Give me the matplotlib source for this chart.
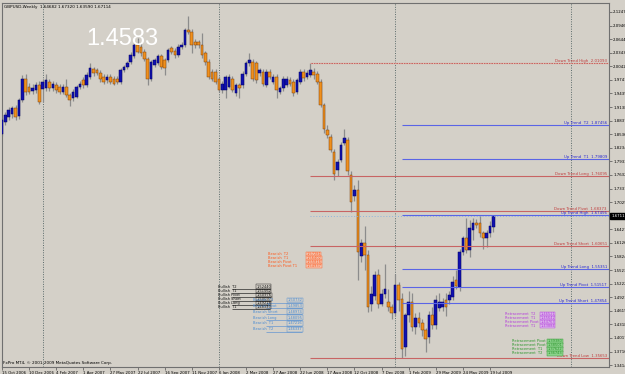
import matplotlib
matplotlib.use('Agg')
import matplotlib.pyplot as plt
import matplotlib.transforms as mtransforms

# GBPUSD weekly bars, 15 Oct 2006 .. 26 Jul 2009
opens = [1.855, 1.881, 1.892, 1.898, 1.911, 1.893, 1.929, 1.977, 1.959, 1.950,
         1.951, 1.963, 1.953, 1.955, 1.970, 1.955, 1.963, 1.959, 1.948, 1.959,
         1.940, 1.933, 1.937, 1.959, 1.974, 1.963, 1.981, 1.998, 1.996, 1.989,
         1.981, 1.974, 1.981, 1.977, 1.977, 1.970, 1.996, 2.003, 2.014, 2.026,
         2.052, 2.048, 2.037, 2.020, 1.977, 2.007, 2.011, 2.026, 2.018, 2.018,
         2.044, 2.039, 2.029, 2.048, 2.052, 2.085, 2.081, 2.059, 2.057, 2.052,
         2.033, 2.014, 1.992, 1.992, 1.977, 1.951, 1.951, 1.959, 1.977, 1.944,
         1.963, 1.963, 1.988, 2.011, 2.014, 2.011, 1.989, 1.992, 1.963, 1.992,
         1.970, 1.981, 1.948, 1.955, 1.963, 1.974, 1.970, 1.948, 1.970, 1.992,
         1.981, 1.985, 1.992, 1.987, 1.970, 1.918, 1.863, 1.848, 1.814, 1.775,
         1.797, 1.834, 1.841, 1.764, 1.717, 1.730, 1.583, 1.612, 1.586, 1.478,
         1.495, 1.541, 1.478, 1.500, 1.482, 1.471, 1.456, 1.519, 1.489, 1.382,
         1.452, 1.482, 1.426, 1.445, 1.434, 1.419, 1.404, 1.452, 1.430, 1.467,
         1.471, 1.486, 1.486, 1.493, 1.530, 1.515, 1.593, 1.623, 1.597, 1.641,
         1.656, 1.656, 1.634, 1.623, 1.634, 1.64682]
highs = [1.890, 1.902, 1.913, 1.917, 1.918, 1.933, 1.985, 1.988, 1.967, 1.965,
         1.970, 1.971, 1.977, 1.988, 1.977, 1.972, 1.969, 1.965, 1.965, 1.977,
         1.945, 1.953, 1.963, 1.972, 1.980, 1.991, 2.011, 2.003, 2.001, 1.995,
         1.987, 1.987, 1.988, 1.983, 1.983, 2.000, 2.008, 2.016, 2.035, 2.063,
         2.067, 2.055, 2.043, 2.025, 2.019, 2.023, 2.031, 2.032, 2.023, 2.045,
         2.050, 2.045, 2.053, 2.059, 2.090, 2.116, 2.087, 2.065, 2.063, 2.077,
         2.039, 2.020, 1.998, 1.998, 1.983, 1.971, 1.985, 1.987, 1.983, 1.967,
         1.968, 1.993, 2.015, 2.033, 2.021, 2.017, 2.001, 1.998, 1.998, 1.998,
         1.987, 1.987, 1.961, 1.983, 1.983, 1.980, 1.976, 1.979, 1.998, 1.998,
         1.995, 2.011, 2.000, 1.993, 1.975, 1.923, 1.875, 1.855, 1.820, 1.798,
         1.836, 1.866, 1.848, 1.771, 1.741, 1.752, 1.621, 1.649, 1.596, 1.516,
         1.551, 1.554, 1.511, 1.566, 1.511, 1.476, 1.544, 1.526, 1.501, 1.458,
         1.506, 1.501, 1.456, 1.459, 1.444, 1.424, 1.461, 1.471, 1.496, 1.501,
         1.491, 1.501, 1.506, 1.538, 1.552, 1.598, 1.628, 1.667, 1.664, 1.667,
         1.666, 1.6746, 1.639, 1.641, 1.660, 1.67320]
lows = [1.850, 1.875, 1.885, 1.890, 1.885, 1.887, 1.925, 1.940, 1.942, 1.943,
        1.945, 1.920, 1.925, 1.950, 1.949, 1.949, 1.945, 1.942, 1.942, 1.935,
        1.916, 1.927, 1.933, 1.953, 1.957, 1.958, 1.977, 1.983, 1.984, 1.970,
        1.965, 1.967, 1.965, 1.962, 1.965, 1.965, 1.992, 1.999, 2.009, 2.022,
        2.033, 2.027, 2.015, 1.963, 1.971, 2.003, 2.006, 1.998, 1.985, 2.013,
        2.032, 2.023, 2.024, 2.043, 2.047, 2.075, 2.033, 2.045, 2.045, 2.023,
        2.008, 1.975, 1.971, 1.965, 1.947, 1.945, 1.933, 1.955, 1.947, 1.938,
        1.933, 1.957, 1.983, 2.005, 1.971, 1.967, 1.983, 1.961, 1.958, 1.975,
        1.965, 1.933, 1.943, 1.950, 1.958, 1.961, 1.938, 1.943, 1.965, 1.971,
        1.975, 1.980, 1.977, 1.965, 1.913, 1.857, 1.845, 1.813, 1.753, 1.761,
        1.791, 1.829, 1.764, 1.680, 1.706, 1.530, 1.571, 1.553, 1.460, 1.461,
        1.486, 1.468, 1.472, 1.491, 1.461, 1.443, 1.451, 1.461, 1.3565, 1.361,
        1.438, 1.418, 1.411, 1.426, 1.406, 1.371, 1.391, 1.422, 1.421, 1.461,
        1.461, 1.451, 1.476, 1.486, 1.511, 1.506, 1.586, 1.591, 1.582, 1.619,
        1.646, 1.626, 1.600, 1.604, 1.626, 1.63590]
closes = [1.885, 1.896, 1.907, 1.911, 1.892, 1.929, 1.977, 1.948, 1.948, 1.955,
          1.963, 1.926, 1.970, 1.974, 1.955, 1.966, 1.951, 1.948, 1.959, 1.940,
          1.929, 1.948, 1.959, 1.966, 1.963, 1.985, 2.000, 1.989, 1.989, 1.975,
          1.970, 1.981, 1.970, 1.966, 1.970, 1.996, 2.003, 2.011, 2.029, 2.052,
          2.037, 2.033, 2.020, 1.977, 2.014, 2.018, 2.026, 2.003, 2.000, 2.040,
          2.037, 2.029, 2.048, 2.052, 2.085, 2.081, 2.052, 2.052, 2.052, 2.029,
          2.014, 1.981, 1.977, 1.970, 1.951, 1.966, 1.981, 1.981, 1.951, 1.963,
          1.955, 1.988, 2.011, 2.018, 1.977, 1.974, 1.996, 1.966, 1.992, 1.981,
          1.981, 1.951, 1.955, 1.977, 1.977, 1.966, 1.944, 1.974, 1.992, 1.978,
          1.989, 1.996, 1.985, 1.970, 1.918, 1.866, 1.851, 1.818, 1.766, 1.793,
          1.830, 1.845, 1.771, 1.704, 1.730, 1.593, 1.612, 1.586, 1.471, 1.500,
          1.541, 1.478, 1.500, 1.511, 1.471, 1.458, 1.519, 1.486, 1.378, 1.452,
          1.482, 1.426, 1.445, 1.434, 1.419, 1.400, 1.452, 1.430, 1.486, 1.482,
          1.482, 1.471, 1.497, 1.526, 1.517, 1.593, 1.623, 1.597, 1.645, 1.656,
          1.652, 1.634, 1.623, 1.634, 1.649, 1.67114]

date_labels = ['15 Oct 2006', '10 Dec 2006', '4 Feb 2007', '1 Apr 2007', '27 May 2007',
               '22 Jul 2007', '16 Sep 2007', '11 Nov 2007', '6 Jan 2008', '2 Mar 2008',
               '27 Apr 2008', '22 Jun 2008', '17 Aug 2008', '12 Oct 2008', '7 Dec 2008',
               '1 Feb 2009', '29 Mar 2009', '24 May 2009', '19 Jul 2009']
price_labels = ['2.12470', '2.09460', '2.06440', '2.03430', '2.00420', '1.97410', '1.94390',
                '1.91380', '1.88370', '1.85360', '1.82340', '1.79330', '1.76320', '1.73310',
                '1.70290', '1.64270', '1.61260', '1.58240', '1.55230', '1.52220', '1.49210',
                '1.46190', '1.43180', '1.40170', '1.37160', '1.34140']

# trend levels from the indicator
down_names = ['Down Trend High', 'Down Trend Long', 'Down Trend Pivot', 'Down Trend Short', 'Down Trend Low']
down_levels = [2.01093, 1.76095, 1.68373, 1.60651, 1.35653]
up_names = ['Up Trend  T2', 'Up Trend  T1', 'Up Trend High', 'Up Trend Long', 'Up Trend Pivot', 'Up Trend Short']
up_levels = [1.87456, 1.79809, 1.67456, 1.55351, 1.51517, 1.47854]
high_bar = 91
low_bar = 118
year_bars = [12, 64, 116, 168]

# small overlapping label blocks drawn by other indicators
orange_names = ['Bearish  T2', 'Bearish  T1', 'Bearish Pivot', 'Bearish Pivot T1']
orange_values = ['1.57281', '1.56402', '1.55816', '1.54937']
black_names = ['Bullish  T2', 'Bullish  T1', 'Bullish Pivot', 'Bullish Short', 'Bullish Long', 'Bullish  T1']
black_values = ['1.52440', '1.51562', '1.50976', '1.50097', '1.49218', '1.48339']
blue_names = ['Bearish  T1', 'Bearish Pivot', 'Bearish Short', 'Bearish Long', 'Bearish  T1', 'Bearish  T2']
blue_values = ['1.50732', '1.49853', '1.48974', '1.48095', '1.47216', '1.46337']
purple_names = ['Retracement  T2', 'Retracement  T1', 'Retracement Pivot', 'Retracement  T1']
purple_values = ['1.46521', '1.45642', '1.44763', '1.43884']
green_names = ['Retracement Pivot  T1', 'Retracement Pivot', 'Retracement  T1', 'Retracement  T2']
green_values = ['1.39380', '1.38501', '1.37622', '1.36743']

bg = '#d4d0c8'
bull = '#1010b0'
bear = '#f0901c'
wick = '#8c8c8c'
red_line = '#c86464'
blue_line = '#5a64e6'

fig = plt.figure(figsize=(6.25, 3.74), dpi=100, facecolor=bg)
ax = fig.add_axes([0.0032, 0.02, 0.9712, 0.972])
ax.set_facecolor(bg)
ax.set_xlim(0, 179.1)
ax.set_ylim(1.3383, 2.1446)

# period separators
for b in year_bars:
    ax.axvline(b, color='#5a6a6a', lw=0.7, ls=(0, (1, 1.5)), zorder=1)

# candles
xs = list(range(len(opens)))
ax.vlines(xs, lows, highs, color=wick, lw=0.9, zorder=2)
for i in xs:
    o, c = opens[i], closes[i]
    up = c >= o
    ax.bar(i, abs(c - o), bottom=min(o, c), width=0.78,
           color=bull if up else bear, edgecolor='#000060' if up else '#7a4010',
           lw=0.35, zorder=3)

# trend lines with their labels
for name, lev in zip(down_names, down_levels):
    ax.hlines(lev, high_bar, 179.1, color=red_line, lw=0.8, zorder=4)
    ax.text(178.5, lev, f'{name}  {lev:.5f}', ha='right', va='bottom',
            fontsize=2.8, color='#c03c3c', zorder=6)
for name, lev in zip(up_names, up_levels):
    ax.hlines(lev, low_bar, 179.1, color=blue_line, lw=0.8, zorder=4)
    ax.text(178.5, lev, f'{name}  {lev:.5f}', ha='right', va='bottom',
            fontsize=2.8, color='#2828d0', zorder=6)
ax.hlines(down_levels[0] + 0.0012, high_bar, 179.1, color='#e8e0c8', lw=0.6, ls=(0, (1, 2)), zorder=4)
ax.hlines(closes[-1], high_bar, 179.1, color='#8cb4dc', lw=0.7, ls=(0, (1, 2)), zorder=4)


def label_block(names, values, x_name, x_value, y_top, step, color, fill, line_color=None):
    # rows of "name ... value" text, stacked downwards
    for k, (n, v) in enumerate(zip(names, values)):
        y = y_top - k * step
        ax.text(x_name, y, n, fontsize=2.6, color=color, ha='left', va='center', zorder=7)
        ax.text(x_value, y, v, fontsize=2.6, color=color, ha='left', va='center', zorder=7,
                bbox=dict(boxstyle='square,pad=0.1', fc=fill, ec=color, lw=0.3))
        if line_color:
            ax.hlines(y - step * 0.45, x_name + 4, x_value + 4.2, color=line_color, lw=0.5, zorder=6)


label_block(orange_names, orange_values, 78.5, 89.8, 1.588, 0.0089, '#ff5a1e', '#f4c4b0')
label_block(black_names, black_values, 63.8, 75.0, 1.515, 0.0089, '#141414', 'none', '#282828')
label_block(blue_names, blue_values, 74.0, 84.3, 1.486, 0.0130, '#4c8cd2', 'none', '#6496d2')
label_block(purple_names, purple_values, 148.4, 158.8, 1.455, 0.0089, '#b43cdc', '#dcb4ec')
label_block(green_names, green_values, 150.5, 161.0, 1.394, 0.0089, '#2c962c', '#8cd28c')

# big price text
ax.text(25.0, 2.064, '1.4583', fontsize=17, color='white', family='Liberation Sans',
        ha='left', va='center', zorder=5)

# header and copyright
ax.text(0.004, 0.995, 'GBPUSD,Weekly  1.64682 1.67320 1.63590 1.67114', transform=ax.transAxes,
        fontsize=3, ha='left', va='top', color='black')
ax.text(0.002, 0.004, 'FxPro MT4, \u00a9 2001-2009 MetaQuotes Software Corp.', transform=ax.transAxes,
        fontsize=3, ha='left', va='bottom', color='black')

# axes look like the terminal
for s in ax.spines.values():
    s.set_color('#707070')
    s.set_linewidth(0.8)
ax.set_xticks(list(range(0, 145, 8)))
ax.set_xticklabels(date_labels, fontsize=2.8, ha='left')
ax.yaxis.tick_right()
ax.set_yticks([float(p) for p in price_labels])
ax.set_yticklabels(price_labels, fontsize=2.8)
ax.tick_params(axis='both', length=2, width=0.5, color='#505050', pad=1)

# current price box
trans = mtransforms.blended_transform_factory(ax.transAxes, ax.transData)
ax.text(1.004, closes[-1], f'{closes[-1]:.5f}', transform=trans, fontsize=2.8, color='white',
        ha='left', va='center', bbox=dict(boxstyle='square,pad=0.25', fc='black', ec='black'),
        clip_on=False, zorder=10)

fig.savefig('out.png', dpi=100, facecolor=bg)
